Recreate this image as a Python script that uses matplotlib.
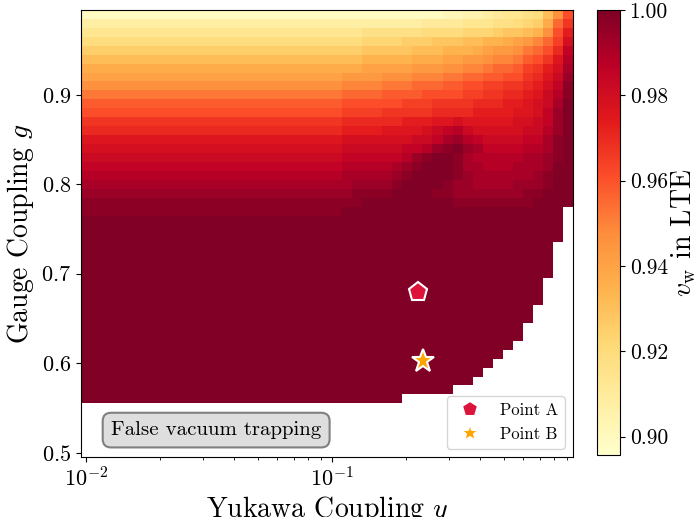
import numpy as np
import matplotlib
matplotlib.use("Agg")
import matplotlib.pyplot as plt
from matplotlib.ticker import FormatStrFormatter

# 폰트 설정 (Computer Modern)
plt.rcParams["font.family"] = "serif"
plt.rcParams["font.serif"] = ["cmr10", "DejaVu Serif"]
plt.rcParams["mathtext.fontset"] = "cm"
plt.rcParams["axes.formatter.use_mathtext"] = True

# 격자: 유카와 결합(로그 간격), 게이지 결합
yukawa = np.logspace(-2, -0.04, 49)
gauge = np.round(np.arange(0.50, 1.00, 0.01), 2)

# v_w 값 (단계 코드 0..z, '.' = 계산 안됨), 위쪽 행이 g = 0.99
codes = "0123456789abcdefghijklmnopqrstuvwxyz"
vw_min = 0.8957
vw_max = 1.0
vw_rows = [
    "11111111111 11111111111 11111111 111111 2233 4566 78 c h m",  # 0.99
    "44444444444 44444444444 44444444 444455 5566 6778 9a e k o",
    "66666666666 66666666666 66666677 777788 8899 9abb cd h m q",
    "88888888888 88888888888 88888899 99aaab bbcc ddef gi k n s",
    "aaaaaaaaaaa aaaaaaaaaaa aaaaaabb bbbccc ddde fggh jk m p u",
    "ccccccccccc ccccccccccc ccccccdd dddeee ffgg hiij lm o r v",
    "eeeeeeeeeee eeeeeeeeeee eeeeeeff fffggg hhii jkkl no q s w",
    "fffffffffff fffffffffff ffffgggg hhhiii jjkk llmm op r t x",
    "hhhhhhhhhhh hhhhhhhhhhh hhhhiiii jjjkkk llmm nnoo pq s u y",
    "jjjjjjjjjjj jjjjjjjjjjj jjjjkkkk llllmm mmnn oopp qr t v y",  # 0.90
    "lllllllllll lllllllllll llllmmmm mmnnno ooop ppqq rs t w z",
    "mmmmmmmmmmm mmmmmmmmmmm mmmmnnnn ooooop pppq qqqr rs u x z",
    "ooooooooooo ooooooooooo oooopppp ppqqqr rsrr rrrs st u x z",
    "ppppppppppp ppppppppppp ppppqqqq rrrrst uvts ssss tt v x z",
    "rrrrrrrrrrr rrrrrrrrrrr rrrrssss sssttu wxvu tttt uu w y z",
    "sssssssssss sssssssssss sssstttt ttuuvx yzxw uuuu vv w y z",
    "ttttttttttt ttttttttttt ttttuuuu uuvxyz zywv vvvv ww x y z",
    "uuuuuuuuuuu uuuuuuuuuuu uuuuvvvv vwxyzz zyww vvvw ww x z z",
    "vvvvvvvvvvv vvvvvvvvvvv vvvvwwww wxyzzz zyxw wwww wx y z z",
    "wwwwwwwwwww wwwwwwwwwww wwwwwxxx xyzzzz yxxw wwwx xx y z z",  # 0.80
    "xxxxxxxxxxx xxxxxxxxxxx xxxxxyyy yzzzzy yxxx xxxx yy z z z",
    "yyyyyyyyyyy yyyyyyyyyyy yyyyyyzz zzzzzz zyyy yyyy yz z z z",
    "yyyyyyyyyyy yyyyyyyyyyy yyyyzzzz zzzzzz zzzz zzzz zz z z .",
    "zzzzzzzzzzz zzzzzzzzzzz zzzzzzzz zzzzzz zzzz zzzz zz z z .",
    "zzzzzzzzzzz zzzzzzzzzzz zzzzzzzz zzzzzz zzzz zzzz zz z z .",
    "zzzzzzzzzzz zzzzzzzzzzz zzzzzzzz zzzzzz zzzz zzzz zz z z .",
    "zzzzzzzzzzz zzzzzzzzzzz zzzzzzzz zzzzzz zzzz zzzz zz z . .",
    "zzzzzzzzzzz zzzzzzzzzzz zzzzzzzz zzzzzz zzzz zzzz zz z . .",
    "zzzzzzzzzzz zzzzzzzzzzz zzzzzzzz zzzzzz zzzz zzzz zz z . .",
    "zzzzzzzzzzz zzzzzzzzzzz zzzzzzzz zzzzzz zzzz zzzz zz z . .",  # 0.70
    "zzzzzzzzzzz zzzzzzzzzzz zzzzzzzz zzzzzz zzzz zzzz zz . . .",
    "zzzzzzzzzzz zzzzzzzzzzz zzzzzzzz zzzzzz zzzz zzzz zz . . .",
    "zzzzzzzzzzz zzzzzzzzzzz zzzzzzzz zzzzzz zzzz zzzz zz . . .",
    "zzzzzzzzzzz zzzzzzzzzzz zzzzzzzz zzzzzz zzzz zzzz z. . . .",
    "zzzzzzzzzzz zzzzzzzzzzz zzzzzzzz zzzzzz zzzz zzzz z. . . .",
    "zzzzzzzzzzz zzzzzzzzzzz zzzzzzzz zzzzzz zzzz zzzz .. . . .",
    "zzzzzzzzzzz zzzzzzzzzzz zzzzzzzz zzzzzz zzzz zzzz .. . . .",
    "zzzzzzzzzzz zzzzzzzzzzz zzzzzzzz zzzzzz zzzz zzz. .. . . .",
    "zzzzzzzzzzz zzzzzzzzzzz zzzzzzzz zzzzzz zzzz zz.. .. . . .",
    "zzzzzzzzzzz zzzzzzzzzzz zzzzzzzz zzzzzz zzzz z... .. . . .",  # 0.60
    "zzzzzzzzzzz zzzzzzzzzzz zzzzzzzz zzzzzz zzzz .... .. . . .",
    "zzzzzzzzzzz zzzzzzzzzzz zzzzzzzz zzzzzz zzz. .... .. . . .",
    "zzzzzzzzzzz zzzzzzzzzzz zzzzzzzz zzzzzz z... .... .. . . .",
    "zzzzzzzzzzz zzzzzzzzzzz zzzzzzzz zz.... .... .... .. . . .",
    "........... ........... ........ ...... .... .... .. . . .",
    "........... ........... ........ ...... .... .... .. . . .",
    "........... ........... ........ ...... .... .... .. . . .",
    "........... ........... ........ ...... .... .... .. . . .",
    "........... ........... ........ ...... .... .... .. . . .",
    "........... ........... ........ ...... .... .... .. . . .",  # 0.50
]

point_a = (0.224, 0.679)
point_b = (0.234, 0.602)
cbar_ticks = [0.90, 0.92, 0.94, 0.96, 0.98, 1.00]

# 코드 -> 값
vw = []
for row in vw_rows:
    row = row.replace(" ", "")
    assert len(row) == len(yukawa), (row, len(row))
    vw.append([np.nan if ch == "." else vw_min + codes.index(ch) * (vw_max - vw_min) / 35 for ch in row])
vw = np.flipud(np.array(vw))
assert vw.shape == (len(gauge), len(yukawa))

# 셀 경계
lx = np.log10(yukawa)
dlx = lx[1] - lx[0]
x_edges = 10 ** np.append(lx - dlx / 2, lx[-1] + dlx / 2)
y_edges = np.append(gauge - 0.005, gauge[-1] + 0.005)

fig = plt.figure(figsize=(6.99, 5.17), dpi=100)
ax = fig.add_axes([0.1159, 0.1161, 0.7039, 0.8646])
cax = fig.add_axes([0.8536, 0.1199, 0.0333, 0.8607])

mesh = ax.pcolormesh(x_edges, y_edges, np.ma.masked_invalid(vw), cmap="YlOrRd",
                     vmin=vw_min, vmax=vw_max, shading="flat")
ax.set_xscale("log")
ax.set_xlim(x_edges[0], x_edges[-1])
ax.set_ylim(y_edges[0], y_edges[-1])

ax.plot(point_a[0], point_a[1], marker="p", color="crimson", markersize=14,
        markeredgecolor="white", markeredgewidth=1.5, linestyle="none", label="Point A")
ax.plot(point_b[0], point_b[1], marker="*", color="orange", markersize=17,
        markeredgecolor="white", markeredgewidth=1.5, linestyle="none", label="Point B")
ax.legend(loc="lower right", fontsize=12, markerscale=0.85)

ax.text(0.061, 0.040, "False vacuum trapping", transform=ax.transAxes, fontsize=15,
        va="bottom", ha="left",
        bbox=dict(boxstyle="round,pad=0.4", facecolor="#dedede", edgecolor="#808080", linewidth=1.5))

ax.set_xlabel("Yukawa Coupling $y$", fontsize=20, labelpad=2)
ax.set_ylabel("Gauge Coupling $g$", fontsize=20)
ax.tick_params(labelsize=16)

cb = fig.colorbar(mesh, cax=cax)
cb.set_ticks(cbar_ticks)
cb.ax.yaxis.set_major_formatter(FormatStrFormatter("%.2f"))
cb.ax.tick_params(labelsize=15.5)
cb.set_label(r"$v_{\rm w}$ in LTE", fontsize=20, labelpad=1)

fig.savefig("out.png", dpi=100)
